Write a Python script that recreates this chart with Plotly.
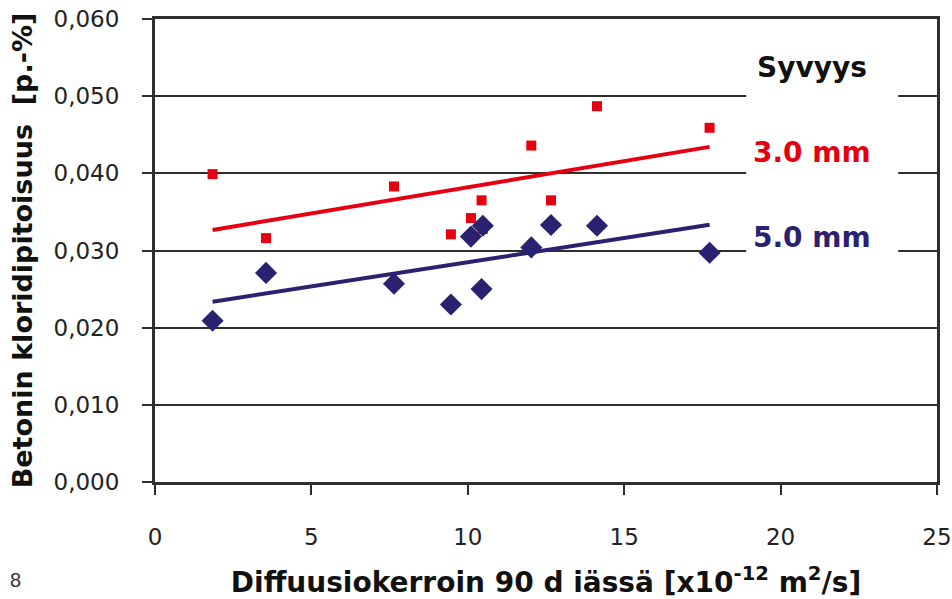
import numpy as np
import plotly.graph_objects as go

# ---- data ----
diffusion = [1.84, 3.55, 7.64, 9.46, 10.10, 10.44, 10.48, 12.03, 12.66, 14.13, 17.73]
chloride_3mm = [0.0399, 0.0316, 0.0383, 0.0321, 0.0342, 0.0365, 0.0328, 0.0436, 0.0365, 0.0487, 0.0459]
chloride_5mm = [0.0209, 0.0271, 0.0257, 0.0230, 0.0318, 0.0250, 0.0332, 0.0304, 0.0333, 0.0332, 0.0297]
series_names = ["3.0 mm", "5.0 mm"]
legend_title = "Syvyys"
x_ticks = [0, 5, 10, 15, 20, 25]
y_ticks = [0.000, 0.010, 0.020, 0.030, 0.040, 0.050, 0.060]

RED = "#E6000F"
NAVY = "#2A2270"
GRID = "#2E2E2E"

fig = go.Figure()

# trend lines (least squares, like the spreadsheet's linear trendline)
xfit = np.array([min(diffusion), max(diffusion)])
for ys, col in ((chloride_3mm, RED), (chloride_5mm, NAVY)):
    k, b = np.polyfit(diffusion, ys, 1)
    fig.add_trace(go.Scatter(x=xfit, y=k * xfit + b, mode="lines",
                             line=dict(color=col, width=4), showlegend=False,
                             hoverinfo="skip"))

fig.add_trace(go.Scatter(x=diffusion, y=chloride_3mm, mode="markers", name=series_names[0],
                         marker=dict(symbol="square", size=10, color=RED), showlegend=False))
fig.add_trace(go.Scatter(x=diffusion, y=chloride_5mm, mode="markers", name=series_names[1],
                         marker=dict(symbol="diamond", size=17, color=NAVY), showlegend=False))

# white box behind the legend text (covers grid lines)
fig.add_shape(type="rect", xref="x", yref="y", x0=18.9, x1=23.76, y0=0.0262, y1=0.0585,
              fillcolor="white", line=dict(width=0), layer="between")

label_font = dict(family="DejaVu Sans", size=28, color="black", weight="bold")
fig.add_annotation(x=21.0, y=0.0537, xref="x", yref="y", text=legend_title, showarrow=False,
                   font=dict(label_font, color="#111111"))
fig.add_annotation(x=21.0, y=0.0427, xref="x", yref="y", text=series_names[0], showarrow=False,
                   font=dict(label_font, color=RED))
fig.add_annotation(x=21.0, y=0.0317, xref="x", yref="y", text=series_names[1], showarrow=False,
                   font=dict(label_font, color=NAVY))

# page number
fig.add_annotation(xref="paper", yref="paper", x=(15 - 155) / 782, y=(482 - 580) / 463,
                   xanchor="center", yanchor="middle", text="8", showarrow=False,
                   font=dict(family="Liberation Sans Narrow, Liberation Sans", size=20, color="#333333"))

tick_font = dict(family="DejaVu Sans", size=23, color="#222222")

fig.update_layout(
    width=952, height=599,
    margin=dict(l=155, r=15, t=19, b=117, autoexpand=False),
    paper_bgcolor="white", plot_bgcolor="white",
    separators=", ",
    xaxis=dict(range=[0, 25], tickvals=x_ticks, ticks="outside", ticklen=10, tickwidth=2,
               tickcolor=GRID, showline=True, linecolor=GRID, linewidth=3, mirror=True,
               showgrid=False, zeroline=False, tickfont=tick_font, ticklabelstandoff=22,
               title=dict(text="Diffuusiokerroin 90 d iässä [x10<sup>-12</sup> m<sup>2</sup>/s]",
                          font=dict(family="DejaVu Sans", size=28, color="#111111", weight="bold"),
                          standoff=24),
               automargin=False),
    yaxis=dict(range=[0, 0.060], tickvals=y_ticks, tickformat=".3f", ticks="outside",
               ticklen=10, tickwidth=2, tickcolor=GRID, showline=True, linecolor=GRID,
               linewidth=3, mirror=True, showgrid=True, gridcolor=GRID, gridwidth=2,
               zeroline=False, tickfont=tick_font, ticklabelstandoff=18,
               title=dict(text="Betonin kloridipitoisuus  [p.-%]",
                          font=dict(family="DejaVu Sans", size=27, color="#111111", weight="bold"),
                          standoff=14),
               automargin=False),
)

fig.write_html("out.html", config={"displayModeBar": False},
               post_script="document.body.style.margin='0px';")
